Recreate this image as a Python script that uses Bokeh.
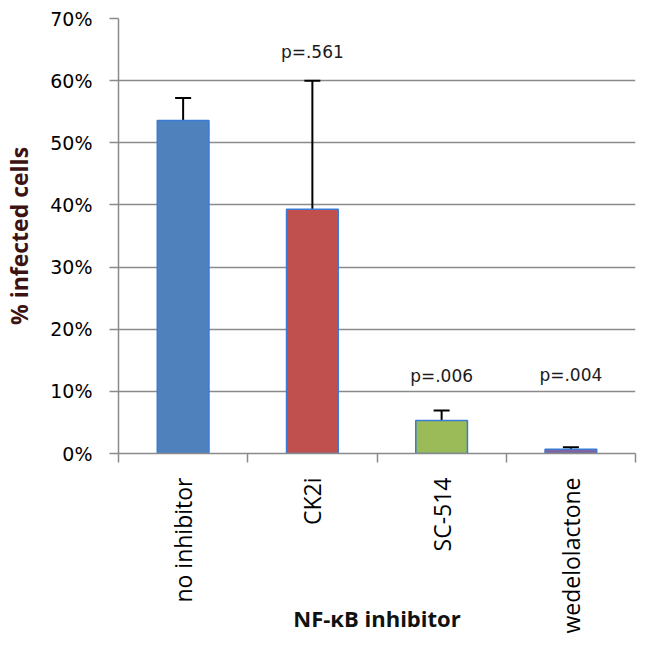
from bokeh.plotting import figure
from bokeh.models import (Range1d, FixedTicker, NumeralTickFormatter, ColumnDataSource,
                          Whisker, TeeHead)
from bokeh.core.properties import value
from bokeh.embed import file_html
from bokeh.resources import INLINE
import math

# ---- data ----
categories = ["no inhibitor", "CK2i", "SC-514", "wedelolactone"]
infected = [0.536, 0.393, 0.053, 0.007]
err_upper = [0.572, 0.600, 0.069, 0.010]
bar_colors = ["#4F81BD", "#C0504D", "#9BBB59", "#8064A2"]
p_labels = ["p=.561", "p=.006", "p=.004"]
p_cats = ["CK2i", "SC-514", "wedelolactone"]
p_label_y = [0.646, 0.124, 0.126]
y_ticks = [0.0, 0.1, 0.2, 0.3, 0.4, 0.5, 0.6, 0.7]

GRID = "#8a8a8a"

xpos = [i + 0.5 for i in range(len(categories))]
src = ColumnDataSource(dict(x=xpos, top=infected, upper=err_upper, color=bar_colors))

p = figure(width=637, height=636, output_backend="svg", toolbar_location=None,
           x_range=Range1d(0, len(categories)), y_range=Range1d(0, 0.7),
           min_border_left=111, min_border_right=2, min_border_top=18, min_border_bottom=183)
p.outline_line_color = None
p.background_fill_color = "white"
p.border_fill_color = "white"

p.vbar(x="x", top="top", bottom=0, width=0.4, fill_color="color",
       line_color="#3a7bd5", line_width=1.5, source=src)

w = Whisker(base="x", lower="top", upper="upper", source=src,
            line_color="black", line_width=2,
            upper_head=TeeHead(size=16, line_color="black", line_width=2),
            lower_head=None)
p.add_layout(w)

pidx = [categories.index(c) + 0.5 for c in p_cats]
psrc = ColumnDataSource(dict(x=pidx, y=p_label_y, t=p_labels))
p.text(x="x", y="y", text="t", source=psrc, text_align="center", text_baseline="middle",
       text_font=value("DejaVu Sans"), text_font_size="17px", text_color="#1a1a1a")

# y axis
p.yaxis.ticker = FixedTicker(ticks=y_ticks)
p.yaxis.formatter = NumeralTickFormatter(format="0%")
p.yaxis.major_label_text_font = "DejaVu Sans"
p.yaxis.major_label_text_font_size = "19px"
p.yaxis.major_label_text_color = "black"
p.yaxis.major_tick_out = 9
p.yaxis.major_tick_in = 0
p.yaxis.minor_tick_line_color = None
p.yaxis.major_tick_line_color = GRID
p.yaxis.major_tick_line_width = 1.5
p.yaxis.axis_line_color = GRID
p.yaxis.axis_line_width = 1.5
p.yaxis.major_label_standoff = 17
p.yaxis.axis_label = "% infected cells"
p.yaxis.axis_label_text_font = "Open Sans"
p.yaxis.axis_label_text_font_style = "bold"
p.yaxis.axis_label_text_font_size = "23px"
p.yaxis.axis_label_text_color = "#3d1212"
p.yaxis.axis_label_standoff = 12

# x axis
p.xaxis.ticker = FixedTicker(ticks=xpos, minor_ticks=list(range(len(categories) + 1)))
p.xaxis.major_label_overrides = {x: c for x, c in zip(xpos, categories)}
p.xaxis.major_label_orientation = math.pi / 2
p.xaxis.major_label_text_font = "Open Sans"
p.xaxis.major_label_text_font_size = "23px"
p.xaxis.major_label_text_color = "black"
p.xaxis.major_tick_line_color = None
p.xaxis.major_tick_out = 0
p.xaxis.major_tick_in = 0
p.xaxis.minor_tick_out = 9
p.xaxis.minor_tick_in = 0
p.xaxis.minor_tick_line_color = GRID
p.xaxis.minor_tick_line_width = 1.5
p.xaxis.axis_line_color = GRID
p.xaxis.axis_line_width = 1.5
p.xaxis.major_label_standoff = 15
p.xaxis.axis_label = "NF-κB inhibitor"
p.xaxis.axis_label_text_font = "Open Sans"
p.xaxis.axis_label_text_font_style = "bold"
p.xaxis.axis_label_text_font_size = "22px"
p.xaxis.axis_label_text_color = "#111111"
p.xaxis.axis_label_standoff = -34

p.xgrid.grid_line_color = None
p.ygrid.ticker = FixedTicker(ticks=y_ticks)
p.ygrid.grid_line_color = GRID
p.ygrid.grid_line_width = 1.5

open("out.html", "w").write(file_html(p, INLINE))
